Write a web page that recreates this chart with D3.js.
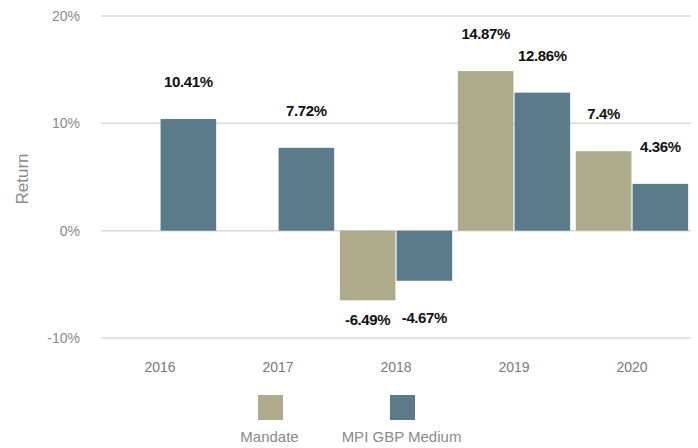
<!DOCTYPE html>
<html>
<head>
<meta charset="utf-8">
<script src="https://cdn.jsdelivr.net/npm/d3@7"></script>
<style>
  body { margin: 0; background: #fff; }
  text { font-family: "Liberation Sans", Arial, sans-serif; }
</style>
</head>
<body>
<svg width="698" height="448"></svg>
<script>
const years = ["2016", "2017", "2018", "2019", "2020"];
const mandate = [null, null, -6.49, 14.87, 7.4];
const mpi = [10.41, 7.72, -4.67, 12.86, 4.36];
const seriesNames = ["Mandate", "MPI GBP Medium"];
const yTicks = [-10, 0, 10, 20];

const colors = ["#adab8b", "#5b7a8a"];

const svg = d3.select("svg");
const margin = { left: 101, right: 8, top: 16, bottom: 110 };

const x = d3.scaleBand()
  .domain(years)
  .range([margin.left, 691])
  .paddingInner(0)
  .paddingOuter(0);

const y = d3.scaleLinear()
  .domain([-10, 20])
  .range([338, 16]);

const sub = d3.scaleBand()
  .domain(seriesNames)
  .range([0, x.bandwidth()])
  .paddingOuter(0.05)
  .paddingInner(0.02);

// grid lines
svg.append("g")
  .selectAll("line")
  .data(yTicks)
  .enter().append("line")
  .attr("x1", margin.left)
  .attr("x2", 691)
  .attr("y1", d => y(d))
  .attr("y2", d => y(d))
  .attr("stroke", "#d9d9d9")
  .attr("stroke-width", 1.5);

// y tick labels
svg.append("g")
  .selectAll("text")
  .data(yTicks)
  .enter().append("text")
  .attr("x", 80)
  .attr("y", d => y(d))
  .attr("dy", "0.35em")
  .attr("text-anchor", "end")
  .attr("fill", "#8a8a8a")
  .style("font-size", "14px")
  .text(d => d + "%");

// y axis title
svg.append("text")
  .attr("transform", "translate(28,179) rotate(-90)")
  .attr("text-anchor", "middle")
  .attr("fill", "#8a8a8a")
  .style("font-size", "17px")
  .text("Return");

// x labels
svg.append("g")
  .selectAll("text")
  .data(years)
  .enter().append("text")
  .attr("x", d => x(d) + x.bandwidth() / 2)
  .attr("y", 367)
  .attr("dy", "0.35em")
  .attr("text-anchor", "middle")
  .attr("fill", "#7a7a7a")
  .style("font-size", "14px")
  .text(d => d);

// bars
const series = [mandate, mpi];
const rows = [];
series.forEach((vals, s) => {
  vals.forEach((v, i) => {
    if (v !== null) rows.push({ year: years[i], s: s, v: v });
  });
});

const bars = svg.append("g");
bars.selectAll("rect")
  .data(rows)
  .enter().append("rect")
  .attr("x", d => x(d.year) + sub(seriesNames[d.s]))
  .attr("width", sub.bandwidth())
  .attr("y", d => Math.min(y(d.v), y(0)))
  .attr("height", d => Math.abs(y(d.v) - y(0)))
  .attr("fill", d => colors[d.s]);

// value labels
bars.selectAll("text")
  .data(rows)
  .enter().append("text")
  .attr("x", d => x(d.year) + sub(seriesNames[d.s]) + sub.bandwidth() / 2)
  .attr("y", d => d.v >= 0 ? y(d.v) - 37 : Math.min(y(d.v) + 37, y(-8.3)))
  .attr("dy", "0.35em")
  .attr("text-anchor", "middle")
  .attr("fill", "#111")
  .style("font-size", "15px")
  .style("font-weight", "bold")
  .style("letter-spacing", "-0.4px")
  .text(d => d.v + "%");

// legend
const legendX = [270.5, 402.5];
const legend = svg.append("g")
  .selectAll("g")
  .data(seriesNames)
  .enter().append("g")
  .attr("transform", (d, i) => "translate(" + legendX[i] + ",0)");

legend.append("rect")
  .attr("x", -12.5)
  .attr("y", 395)
  .attr("width", 25)
  .attr("height", 25)
  .attr("fill", (d, i) => colors[i]);

legend.append("text")
  .attr("x", -1)
  .attr("y", 437)
  .attr("dy", "0.35em")
  .attr("text-anchor", "middle")
  .attr("fill", "#8a8a8a")
  .style("font-size", "15px")
  .text(d => d);
</script>
</body>
</html>
